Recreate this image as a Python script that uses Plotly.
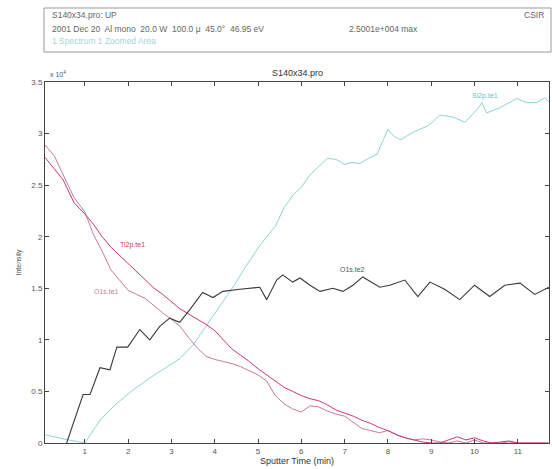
import plotly.graph_objects as go

# Sputter depth profile S140x34 -- intensities in counts
ti_time = [0.08, 0.3, 0.5, 0.75, 1.0, 1.2, 1.4, 1.6, 1.8, 2.0, 2.2, 2.4, 2.6, 2.8, 3.0, 3.2,
           3.4, 3.6, 3.8, 4.0, 4.2, 4.4, 4.6, 4.8, 5.0, 5.2, 5.4, 5.6, 5.8, 6.0, 6.2, 6.4,
           6.6, 6.8, 7.0, 7.2, 7.4, 7.6, 7.8, 8.0, 8.2, 8.4, 8.6, 8.8, 9.0, 9.2, 9.4, 9.6,
           9.8, 10.0, 10.2, 10.4, 10.6, 10.8, 11.0, 11.2, 11.4, 11.7]
ti2p_te1 = [27700, 26600, 25500, 23300, 22200, 21200, 20000, 19000, 18200, 17300, 16600,
            15800, 15000, 14400, 13700, 13000, 12500, 12000, 11500, 10900, 10000, 9100,
            8500, 7900, 7200, 6600, 6000, 5400, 5000, 4600, 4300, 4100, 3700, 3200, 2900,
            2600, 2200, 1900, 1500, 1200, 800, 500, 300, 100, 0, 0, 300, 600, 300, 500,
            200, 0, 100, 200, 0, 0, 0, 0]
o1s_te1 = [28900, 27800, 26000, 23800, 22400, 20200, 18600, 16800, 15800, 14800, 14400,
           14000, 13300, 12600, 12000, 11300, 10200, 9200, 8400, 8100, 7900, 7700, 7400,
           7000, 6600, 6000, 4600, 3800, 3300, 3000, 3600, 3500, 3100, 2800, 2600, 2000,
           1400, 1200, 1000, 1200, 800, 500, 300, 400, 300, 100, 0, 200, 0, 300, 0, 0, 0,
           100, 0, 0, 0, 0]

o2_time = [0.58, 0.96, 1.12, 1.35, 1.58, 1.74, 1.99, 2.27, 2.50, 2.73, 2.96, 3.19, 3.42,
           3.72, 3.96, 4.19, 4.58, 4.88, 5.04, 5.20, 5.43, 5.57, 5.80, 5.97, 6.20, 6.43,
           6.73, 6.96, 7.19, 7.42, 7.65, 7.81, 8.04, 8.39, 8.69, 8.97, 9.31, 9.66, 10.0,
           10.35, 10.7, 11.05, 11.39, 11.72]
o1s_te2 = [0, 4700, 4700, 7300, 7100, 9300, 9300, 11000, 10000, 11300, 12100, 11700,
           12900, 14600, 14100, 14700, 14900, 15000, 15100, 13900, 15800, 16300, 15600,
           16000, 15300, 14700, 15000, 14700, 15300, 16100, 15500, 15100, 15300, 15800,
           14200, 15600, 14900, 13900, 15300, 14200, 15300, 15500, 14400, 15100]

si_time = [0.08, 0.5, 1.0, 1.35, 1.7, 2.1, 2.5, 2.9, 3.2, 3.5, 3.75, 4.0, 4.2, 4.45, 4.7,
           5.0, 5.2, 5.4, 5.6, 5.8, 6.0, 6.2, 6.4, 6.6, 6.8, 7.0, 7.15, 7.35, 7.55, 7.75,
           7.9, 8.0, 8.15, 8.3, 8.45, 8.62, 8.9, 9.05, 9.2, 9.5, 9.78, 10.05, 10.17, 10.28,
           10.58, 10.8, 10.98, 11.2, 11.44, 11.62, 11.73]
si2p_te1 = [800, 400, 0, 2200, 3700, 5100, 6300, 7400, 8200, 9500, 11000, 12500, 13800,
            15300, 17000, 18900, 20000, 21000, 22800, 24000, 24800, 26000, 26800, 27600,
            27500, 27000, 27200, 27100, 27600, 28000, 29500, 30400, 29700, 29400, 29800,
            30200, 30700, 31200, 31800, 31600, 31100, 32300, 33000, 32000, 32500, 33000,
            33400, 33000, 33000, 33500, 33000]

x_ticks = list(range(1, 12))
y_ticks = [0, 5000, 10000, 15000, 20000, 25000, 30000, 35000]
y_tick_text = ["0", "0.5", "1", "1.5", "2", "2.5", "3", "3.5"]

FONT = "Liberation Sans, Arial, sans-serif"
C_TI = "#c83a76"
C_O1 = "#c77a9c"
C_O2 = "#3a3a3a"
C_SI = "#8fd3d6"

fig = go.Figure()
fig.add_trace(go.Scatter(x=si_time, y=si2p_te1, mode="lines", line=dict(color=C_SI, width=1)))
fig.add_trace(go.Scatter(x=ti_time, y=o1s_te1, mode="lines", line=dict(color=C_O1, width=1)))
fig.add_trace(go.Scatter(x=ti_time, y=ti2p_te1, mode="lines", line=dict(color=C_TI, width=1)))
fig.add_trace(go.Scatter(x=o2_time, y=o1s_te2, mode="lines", line=dict(color=C_O2, width=1.1)))

# curve labels
for txt, x, y, col in [("Ti2p.te1", 2.09, 19200, C_TI),
                       ("O1s.te1", 1.5, 14700, C_O1),
                       ("O1s.te2", 7.19, 16800, "#555555"),
                       ("Si2p.te1", 10.25, 33600, "#6cc3c6")]:
    fig.add_annotation(x=x, y=y, text=txt, showarrow=False,
                       font=dict(size=7, color=col, family=FONT))

# header box with acquisition details
fig.add_shape(type="rect", xref="paper", yref="paper", x0=-0.002, x1=1.004, y0=1.083, y1=1.205,
              line=dict(color="#9a9a9a", width=1), fillcolor="white")
hdr = [("S140x34.pro: UP", 0.01, 1.186, "#666666"),
       ("2001 Dec 20  Al mono  20.0 W  100.0 \u03bc  45.0\u00b0  46.95 eV", 0.01, 1.147, "#666666"),
       ("2.5001e+004 max", 0.6, 1.147, "#666666"),
       ("1 Spectrum 1 Zoomed Area", 0.01, 1.114, "#9fd6d8")]
for txt, x, y, col in hdr:
    fig.add_annotation(xref="paper", yref="paper", x=x, y=y, text=txt, showarrow=False,
                       xanchor="left", yanchor="middle", font=dict(size=8.5, color=col, family=FONT))
fig.add_annotation(xref="paper", yref="paper", x=0.995, y=1.186, text="CSIR", showarrow=False,
                   xanchor="right", yanchor="middle", font=dict(size=8.5, color="#666666", family=FONT))

fig.add_annotation(xref="paper", yref="paper", x=0.5, y=1.025, text="S140x34.pro", showarrow=False,
                   yanchor="middle", font=dict(size=9, color="#333333", family=FONT))
fig.add_annotation(xref="paper", yref="paper", x=0.005, y=1.022, text="x 10<sup>4</sup>", showarrow=False,
                   xanchor="left", yanchor="middle", font=dict(size=7, color="#555555", family=FONT))

axis_common = dict(showgrid=False, zeroline=False, showline=True, mirror="ticks",
                   linecolor="#444444", linewidth=1, ticks="inside", ticklen=4,
                   tickcolor="#444444", tickfont=dict(size=8, color="#555555", family=FONT))

fig.update_xaxes(range=[0.08, 11.72], tickvals=x_ticks,
                 title=dict(text="Sputter Time (min)", font=dict(size=9, color="#333333", family=FONT),
                            standoff=2), **axis_common)
fig.update_yaxes(range=[0, 35000], tickvals=y_ticks, ticktext=y_tick_text,
                 title=dict(text="Intensity", font=dict(size=7, color="#555555", family=FONT),
                            standoff=8), **axis_common)

fig.update_layout(width=552, height=469, showlegend=False,
                  margin=dict(l=45, r=3, t=82, b=26),
                  paper_bgcolor="white", plot_bgcolor="white")

fig.write_html("out.html")
